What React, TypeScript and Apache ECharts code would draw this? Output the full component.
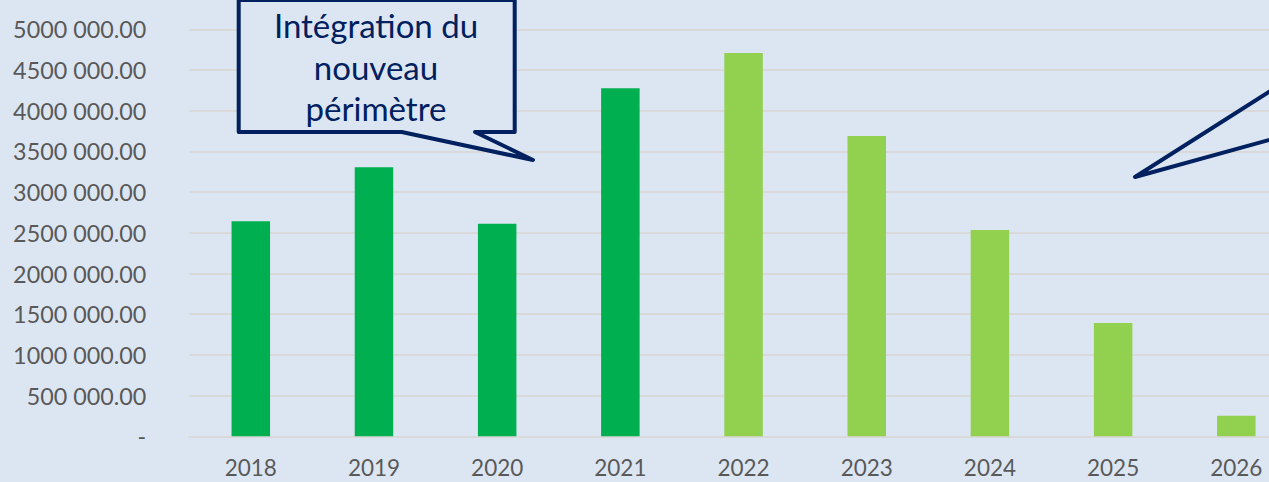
import React, { useEffect, useRef } from "react";
import * as echarts from "echarts";

const years = ["2018", "2019", "2020", "2021", "2022", "2023", "2024", "2025", "2026"];
const amounts = [2641000, 3305000, 2612000, 4277000, 4709000, 3689000, 2534000, 1392000, 252000];
const realisedCount = 4; // 2018-2021 drawn in dark green
const yTickLabels = [
  "-",
  "500 000.00",
  "1000 000.00",
  "1500 000.00",
  "2000 000.00",
  "2500 000.00",
  "3000 000.00",
  "3500 000.00",
  "4000 000.00",
  "4500 000.00",
  "5000 000.00",
];
const calloutLines = ["Intégration du", "nouveau", "périmètre"];

const DARK_GREEN = "#00b050";
const LIGHT_GREEN = "#92d050";
const NAVY = "#002060";
const BG = "#dce6f2";

export default function App() {
  const ref = useRef<HTMLDivElement>(null);

  useEffect(() => {
    if (!ref.current) return;
    const chart = echarts.init(ref.current, undefined, { renderer: "svg" });
    chart.setOption({
      animation: false,
      backgroundColor: BG,
      grid: { left: 189.2, right: 2.1, top: 29.3, bottom: 45.7, containLabel: false },
      xAxis: {
        type: "category",
        data: years,
        axisTick: { show: false },
        axisLine: { show: true, lineStyle: { color: "#d9d9d9", width: 2 } },
        axisLabel: {
          color: "#595959",
          fontFamily: "Lato",
          fontSize: 22.5,
          lineHeight: 18,
          margin: 22,
        },
      },
      yAxis: {
        type: "value",
        min: 0,
        max: 5000000,
        interval: 500000,
        axisLine: { show: false },
        axisTick: { show: false },
        splitLine: { show: true, lineStyle: { color: "#d9d9d9", width: 2 } },
        axisLabel: {
          color: "#595959",
          fontFamily: "Lato",
          fontSize: 23.3,
          margin: 43,
          formatter: (v: number) => yTickLabels[Math.round(v / 500000)] ?? "",
        },
      },
      series: [
        {
          type: "bar",
          barWidth: 38.5,
          data: amounts.map((v, i) => ({
            value: v,
            itemStyle: { color: i < realisedCount ? DARK_GREEN : LIGHT_GREEN },
          })),
        },
      ],
      graphic: [
        {
          type: "polygon",
          shape: {
            points: [
              [238.7, 0],
              [514.7, 0],
              [514.7, 132],
              [475, 132],
              [533, 160],
              [401.7, 132],
              [238.7, 132],
            ],
          },
          style: { fill: BG, stroke: NAVY, lineWidth: 4, lineJoin: "round" },
          z: 100,
        },
        ...calloutLines.map((t, i) => ({
          type: "text",
          x: 376,
          y: 25 + i * 41.5,
          style: {
            text: t,
            fill: NAVY,
            font: "33px Lato",
            align: "center",
            verticalAlign: "middle",
          },
          z: 101,
        })),
        {
          type: "polyline",
          shape: {
            points: [
              [1300, 72.3],
              [1135, 177],
              [1300, 131.4],
            ],
          },
          style: { stroke: NAVY, lineWidth: 4, lineJoin: "round", lineCap: "round", fill: "none" },
          z: 100,
        },
      ],
    });
    return () => chart.dispose();
  }, []);

  return (
    <div
      style={{
        position: "fixed",
        left: 0,
        top: 0,
        width: 1269,
        height: 482,
        overflow: "hidden",
        background: BG,
      }}
    >
      <div ref={ref} style={{ width: 1300, height: 482 }} />
    </div>
  );
}
